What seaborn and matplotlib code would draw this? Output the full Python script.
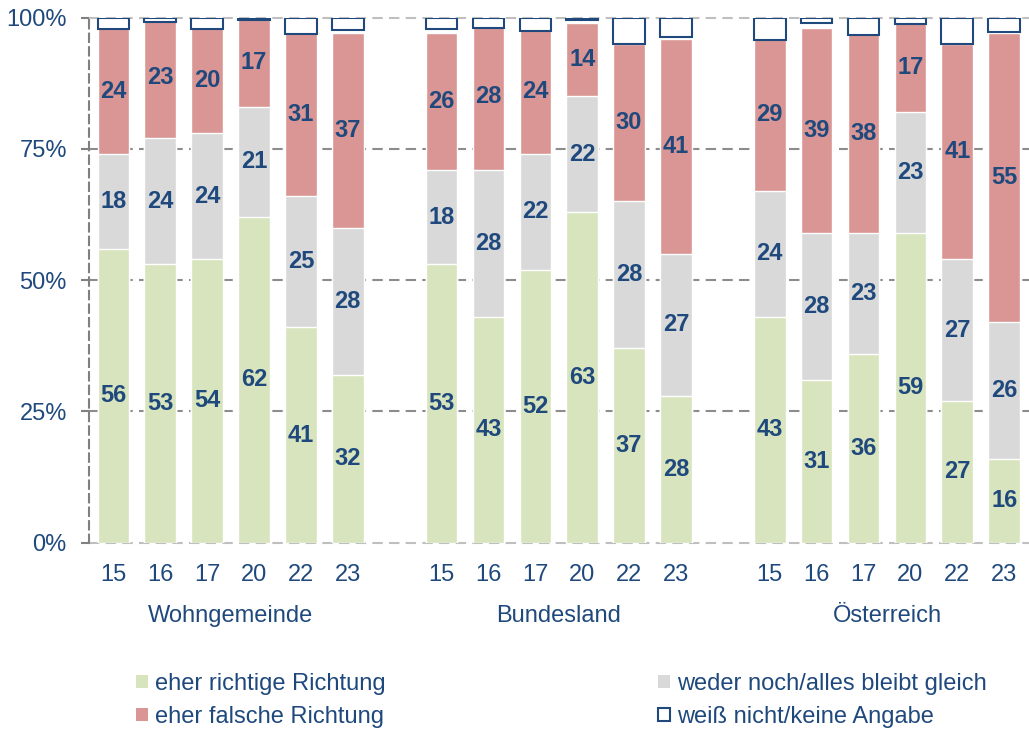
import numpy as np
import pandas as pd
import matplotlib
matplotlib.use("Agg")
import matplotlib.pyplot as plt
import matplotlib.transforms as mtransforms
from matplotlib.patches import Patch
import seaborn as sns

# ---------------- data ----------------
groups = ["Wohngemeinde", "Bundesland", "Österreich"]
years = ["15", "16", "17", "20", "22", "23"]

richtig_wg = [56, 53, 54, 62, 41, 32]
richtig_bl = [53, 43, 52, 63, 37, 28]
richtig_at = [43, 31, 36, 59, 27, 16]

weder_wg = [18, 24, 24, 21, 25, 28]
weder_bl = [18, 28, 22, 22, 28, 27]
weder_at = [24, 28, 23, 23, 27, 26]

falsch_wg = [24, 23, 20, 17, 31, 37]
falsch_bl = [26, 28, 24, 14, 30, 41]
falsch_at = [29, 39, 38, 17, 41, 55]

weiss_wg = [2.1, 0.9, 2.2, 0.4, 3.1, 2.4]
weiss_bl = [2.1, 1.9, 2.6, 0.5, 5.0, 3.7]
weiss_at = [4.2, 1.1, 3.3, 1.3, 5.1, 2.7]

legend_labels = ["eher richtige Richtung", "eher falsche Richtung",
                 "weder noch/alles bleibt gleich", "weiß nicht/keine Angabe"]

# ---------------- style ----------------
GREEN = "#D7E4BD"
GREY = "#D9D9D9"
RED = "#D99694"
NAVY = "#1F497D"
AXGREY = "#808080"
LIGHTGREY = "#BFBFBF"

sns.set_theme(style="white")
plt.rcParams["font.family"] = ["Liberation Sans", "DejaVu Sans"]
FS = 17

rows = []
slot_order = []
for gi, (g, r, w, f, k) in enumerate(zip(
        groups,
        [richtig_wg, richtig_bl, richtig_at],
        [weder_wg, weder_bl, weder_at],
        [falsch_wg, falsch_bl, falsch_at],
        [weiss_wg, weiss_bl, weiss_at])):
    if gi > 0:
        slot_order.append(f"gap{gi}")
    for yi, y in enumerate(years):
        key = f"{g}-{y}"
        slot_order.append(key)
        rows.append(dict(slot=key, group=g, year=y,
                         richtig=r[yi], weder=w[yi], falsch=f[yi], weiss=k[yi]))
df = pd.DataFrame(rows)
df["cum_weder"] = df["richtig"] + df["weder"]
df["cum_falsch"] = df["cum_weder"] + df["falsch"]
df["pos"] = [slot_order.index(s) for s in df["slot"]]

fig = plt.figure(figsize=(10.29, 7.31), dpi=100)
fig.patch.set_facecolor("white")
ax = fig.add_axes([0.0865, 0.2576, 0.9135, 0.7184])
ax.set_facecolor("white")

BW = 0.675
common = dict(data=df, x="slot", order=slot_order, saturation=1, width=BW,
              edgecolor="white", linewidth=1, errorbar=None, ax=ax, zorder=2)
sns.barplot(y="cum_falsch", color=RED, **common)
sns.barplot(y="cum_weder", color=GREY, **common)
sns.barplot(y="richtig", color=GREEN, **common)

# "weiß nicht" boxes anchored at the 100% line
ax.bar(df["pos"], df["weiss"], bottom=100 - df["weiss"], width=BW,
       facecolor="white", edgecolor=NAVY, linewidth=1.5, zorder=3)

# value labels
for _, row in df.iterrows():
    for val, base in [(row["richtig"], 0), (row["weder"], row["richtig"]),
                      (row["falsch"], row["cum_weder"])]:
        ax.text(row["pos"], base + val / 2, f"{val:d}", ha="center", va="center",
                fontsize=FS, fontweight="bold", color=NAVY, zorder=4)

# axes
ax.set_xlim(-0.52, 19.53)
ax.set_ylim(0, 100)
ax.set_yticks([0, 25, 50, 75, 100])
ax.set_yticklabels(["0%", "25%", "50%", "75%", "100%"])
ax.set_xticks(df["pos"])
ax.set_xticklabels(df["year"])
ax.set_xlabel("")
ax.set_ylabel("")
ax.tick_params(axis="y", length=6, width=1.5, color=AXGREY, pad=10,
               labelsize=FS, labelcolor=NAVY, left=True)
ax.tick_params(axis="x", length=0, pad=15, labelsize=FS, labelcolor=NAVY)

for y in [25, 50, 75]:
    ax.axhline(y, color="#8C8C8C", lw=1.5, ls=(0, (5, 3)), zorder=1)
for y in [0, 100]:
    ax.axhline(y, color=LIGHTGREY, lw=1.5, ls=(0, (5, 3)), zorder=1, clip_on=False)

for s in ["top", "right", "bottom"]:
    ax.spines[s].set_visible(False)
ax.spines["left"].set_color(AXGREY)
ax.spines["left"].set_linewidth(1.5)
ax.spines["left"].set_linestyle((0, (4, 2.5)))

# group labels
trans = mtransforms.blended_transform_factory(ax.transData, ax.transAxes)
for gi, g in enumerate(groups):
    center = gi * 7 + 2.5
    ax.annotate(g, xy=(center, 0), xycoords=trans, xytext=(0, -52.5),
                textcoords="offset points", ha="center", va="center",
                fontsize=FS, color=NAVY)

# legends
h_green = Patch(facecolor=GREEN, edgecolor="none")
h_red = Patch(facecolor=RED, edgecolor="none")
h_grey = Patch(facecolor=GREY, edgecolor="none")
h_white = Patch(facecolor="white", edgecolor=NAVY, linewidth=1.5)
leg_kw = dict(loc="upper left", frameon=False, fontsize=FS, labelcolor=NAVY,
              handlelength=0.5, handleheight=0.5, handletextpad=0.3,
              labelspacing=0.45, borderpad=0, borderaxespad=0)
fig.legend([h_green, h_red], legend_labels[:2],
           bbox_to_anchor=(136 / 1029, 1 - 673 / 731), **leg_kw)
fig.legend([h_grey, h_white], legend_labels[2:],
           bbox_to_anchor=(658 / 1029, 1 - 673 / 731), **leg_kw)

fig.savefig("out.png", dpi=100, facecolor="white")
